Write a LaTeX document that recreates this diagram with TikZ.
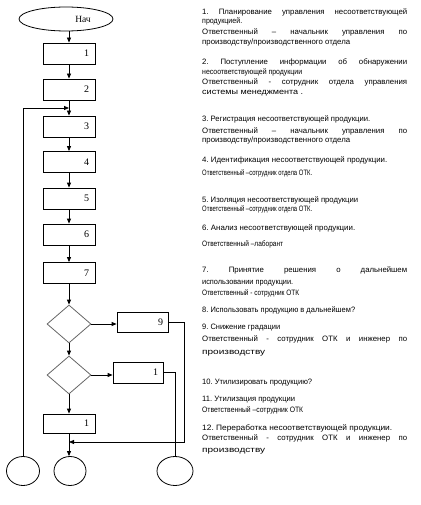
\documentclass[tikz,border=0pt]{standalone}
\usepackage{fontspec}
\usepackage{graphicx}
\setmainfont{Liberation Serif}
\newfontfamily\txtfont{Liberation Sans}
\usetikzlibrary{shapes.geometric,arrows.meta}
\frenchspacing
\newcommand{\jl}[1]{\makebox[205pt][s]{#1}}
\newcommand{\fl}[2]{\resizebox{#1pt}{\height}{#2}}
\tikzset{
  box/.style={draw, line width=0.8pt, minimum width=52pt, minimum height=21pt, inner sep=0pt},
  dia/.style={diamond, draw=black!60, line width=0.8pt, minimum width=44pt, minimum height=38pt, inner sep=0pt},
  ell/.style={ellipse, draw, line width=0.8pt, inner sep=0pt},
  num/.style={anchor=east, inner sep=0pt, font=\fontsize{10}{12}\selectfont},
  arr/.style={-{Triangle[length=5pt,width=4pt]}, line width=0.8pt},
  lin/.style={line width=0.8pt},
  txt/.style={anchor=base west, inner sep=0pt, font=\txtfont\fontsize{7.8}{9}\selectfont\frenchspacing}
}
\begin{document}
\begin{tikzpicture}[x=1pt,y=-1pt]
\useasboundingbox (0,0) rectangle (420,505);
% flowchart
\node[ell, minimum width=94pt, minimum height=24pt] (start) at (66,19) {};
\node[inner sep=0pt, font=\fontsize{9.5}{11}\selectfont] (startlbl) at (83,19) {Нач};
\node[box] (b1) at (69,53.5) {};
\node[box] (b2) at (69,89.5) {};
\node[box] (b3) at (69,126.5) {};
\node[box] (b4) at (69,162) {};
\node[box] (b5) at (69,198.5) {};
\node[box] (b6) at (69,234.5) {};
\node[box] (b7) at (69,273) {};
\node[dia] (d1) at (69,324) {};
\node[dia] (d2) at (69,375) {};
\node[box, minimum width=51pt, minimum height=20pt] (b9) at (142.5,322) {};
\node[box, minimum width=50pt] (b10) at (138,372.5) {};
\node[box, minimum height=19pt] (b11) at (69,423.5) {};
\node[ell, minimum width=33pt, minimum height=29pt] (e1) at (23,471) {};
\node[ell, minimum width=32pt, minimum height=29pt] (e2) at (70,471) {};
\node[ell, minimum width=36pt, minimum height=29pt] (e3) at (175,471) {};
\node[num] (n1) at ([xshift=-6pt]b1.east) {1};
\node[num] (n2) at ([xshift=-6pt]b2.east) {2};
\node[num] (n3) at ([xshift=-6pt]b3.east) {3};
\node[num] (n4) at ([xshift=-6pt]b4.east) {4};
\node[num] (n5) at ([xshift=-6pt]b5.east) {5};
\node[num] (n6) at ([xshift=-6pt]b6.east) {6};
\node[num] (n7) at ([xshift=-6pt]b7.east) {7};
\node[num] (n9) at ([xshift=-5pt]b9.east) {9};
\node[num] (n10) at ([xshift=-5pt]b10.east) {1};
\node[num] (n11) at ([xshift=-6pt]b11.east) {1};
\coordinate (lp) at (24,108);
\coordinate (rt) at (184,442);
\draw[arr] (b1.north |- start.south) -- (b1.north);
\draw[arr] (b1) -- (b2);
\draw[arr] (b2) -- (b3);
\draw[arr] (b3) -- (b4);
\draw[arr] (b4) -- (b5);
\draw[arr] (b5) -- (b6);
\draw[arr] (b6) -- (b7);
\draw[arr] (b7) -- (d1);
\draw[arr] (d1) -- (d2);
\draw[arr] (d2) -- (b11);
\draw[arr] (b11) -- (b11.south |- e2.north);
\draw[arr] (d1.east) -- (d1.east -| b9.west);
\draw[arr] (d2.east) -- (d2.east -| b10.west);
\draw[arr] (e1.north) -- (e1.north |- lp) -- (b3.north |- lp);
\draw[arr] (b9.east) -- (b9.east -| rt) -- (rt) -- (b11.south |- rt);
\draw[lin] (b10.east) -- (b10.east -| e3.north) -- (e3.north);
% text column
\node[txt] (t1a) at (202,14.5) {\jl{1. Планирование управления несоответствующей}};
\node[txt] (t1b) at (202,23.5) {\fl{40}{продукцией.}};
\node[txt] (t1c) at (202,34.5) {\jl{Ответственный – начальник управления по}};
\node[txt] (t1d) at (202,44.5) {\fl{148}{производству/производственного отдела}};
\node[txt] (t2a) at (202,64.5) {\jl{2. Поступление информации об обнаружении}};
\node[txt] (t2b) at (202,74.5) {\fl{100}{несоответствующей продукции}};
\node[txt] (t2c) at (202,84.5) {\jl{Ответственный - сотрудник отдела управления}};
\node[txt] (t2d) at (202,94.5) {\fl{101}{системы менеджмента .}};
\node[txt] (t3a) at (202,121.5) {\fl{168}{3. Регистрация несоответствующей продукции.}};
\node[txt] (t3b) at (202,133.5) {\jl{Ответственный – начальник управления по}};
\node[txt] (t3c) at (202,142.5) {\fl{148}{производству/производственного отдела}};
\node[txt] (t4a) at (202,162.5) {\fl{185}{4. Идентификация несоответствующей продукции.}};
\node[txt] (t4b) at (202,175.5) {\fl{110}{Ответственный –сотрудник отдела ОТК.}};
\node[txt] (t5a) at (202,202.5) {\fl{156}{5. Изоляция несоответствующей продукции}};
\node[txt] (t5b) at (202,211.5) {\fl{110}{Ответственный –сотрудник отдела ОТК.}};
\node[txt] (t6a) at (202,230.5) {\fl{153}{6. Анализ несоответствующей продукции.}};
\node[txt] (t6b) at (202,246.5) {\fl{81}{Ответственный –лаборант}};
\node[txt] (t7a) at (202,272.5) {\jl{7. Принятие решения о дальнейшем}};
\node[txt] (t7b) at (202,284.5) {\fl{91}{использовании продукции.}};
\node[txt] (t7c) at (202,295.5) {\fl{97}{Ответственный - сотрудник ОТК}};
\node[txt] (t8) at (202,312.5) {\fl{153}{8. Использовать продукцию в дальнейшем?}};
\node[txt] (t9a) at (202,329.5) {\fl{78}{9. Снижение градации}};
\node[txt] (t9b) at (202,341.5) {\jl{Ответственный - сотрудник ОТК и инженер по}};
\node[txt] (t9c) at (202,354.5) {\fl{63}{производству}};
\node[txt] (t10) at (202,384.5) {\fl{110}{10. Утилизировать продукцию?}};
\node[txt] (t11a) at (202,401.5) {\fl{93}{11. Утилизация продукции}};
\node[txt] (t11b) at (202,412.5) {\fl{101}{Ответственный –сотрудник ОТК}};
\node[txt] (t12a) at (202,430.5) {\fl{190}{12. Переработка несоответствующей продукции.}};
\node[txt] (t12b) at (202,440.5) {\jl{Ответственный - сотрудник ОТК и инженер по}};
\node[txt] (t12c) at (202,452.5) {\fl{63}{производству}};
\end{tikzpicture}
\end{document}
